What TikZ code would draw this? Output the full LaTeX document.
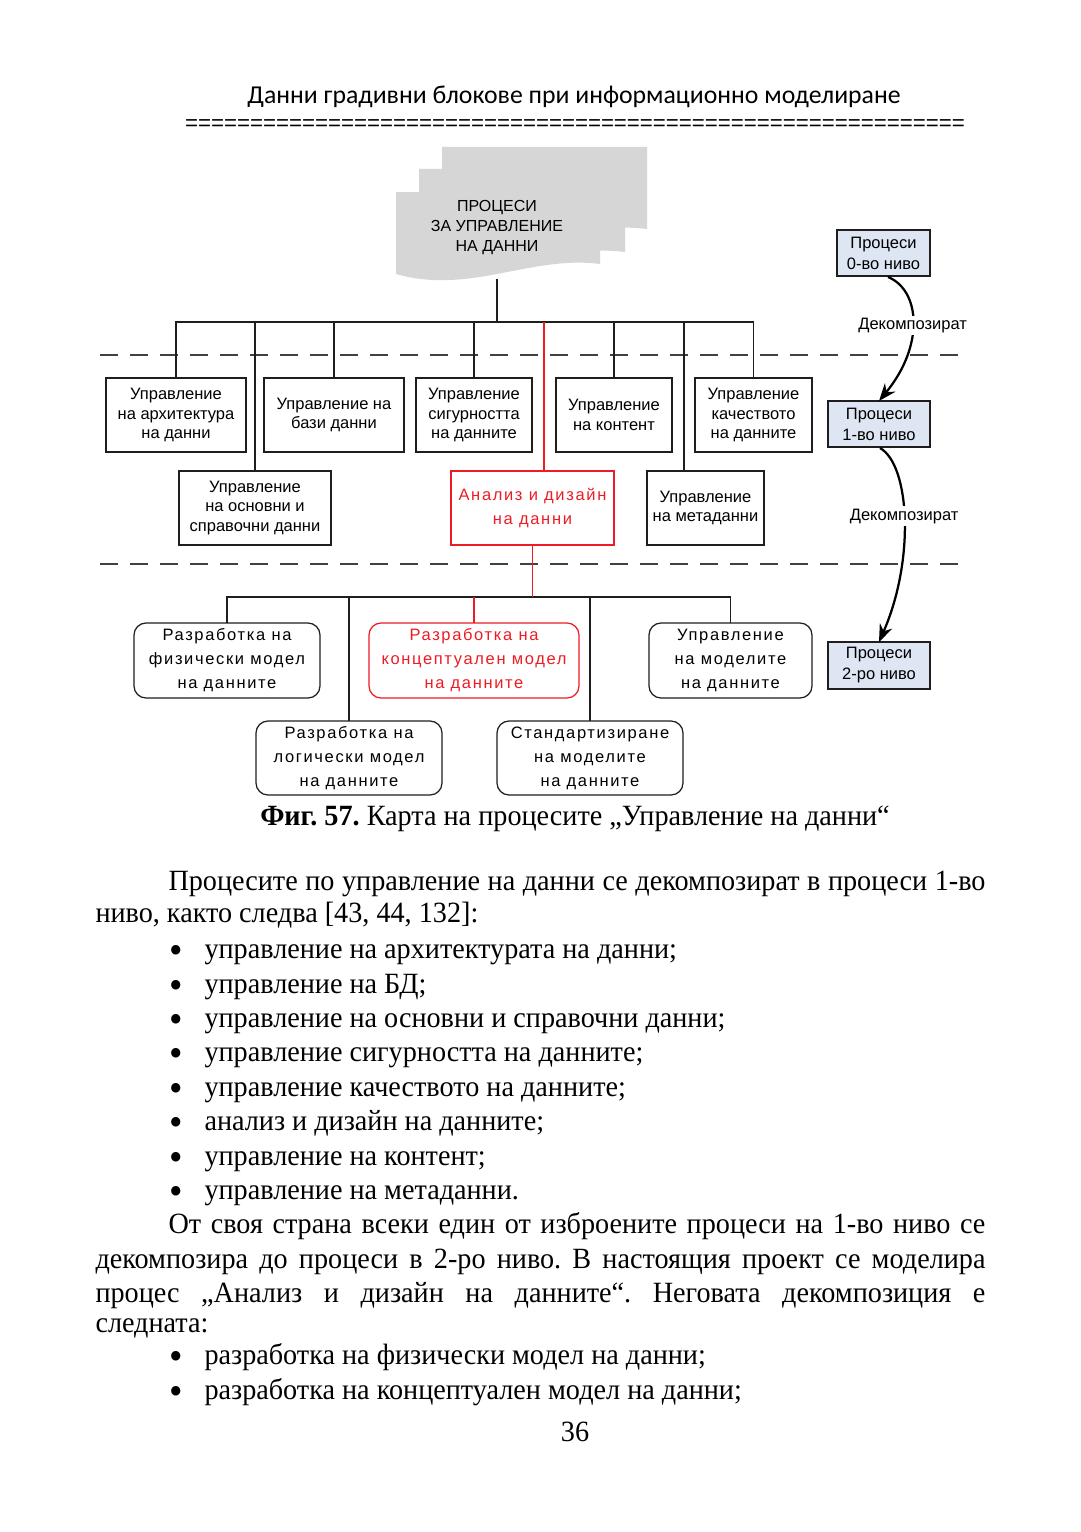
\documentclass[tikz,border=0pt]{standalone}
\usepackage{fontspec}
\usepackage{graphicx}
\setmainfont{Liberation Serif}
\newfontfamily\bodyfont[FakeStretch=0.96]{Liberation Serif}
\newfontfamily\sansf{Liberation Sans}
\newfontfamily\spacedf[LetterSpace=10]{Liberation Sans}
\newfontfamily\headf{Carlito}
\usetikzlibrary{arrows.meta,calc}
\definecolor{redc}{RGB}{237,28,36}
\definecolor{docgray}{RGB}{214,214,214}
\definecolor{procblue}{RGB}{221,230,242}
\definecolor{linec}{RGB}{30,30,30}
\frenchspacing
\tikzset{
 sz/.style 2 args={minimum width=#1*0.4pt,minimum height=#2*0.4pt},
 lvl/.style={draw=linec,line width=0.5pt,inner sep=0pt,outer sep=0pt,align=center,font=\fontsize{6.6}{7.8}\sansf},
 lvltwo/.style={lvl,rounded corners=4.8pt,font=\fontsize{6.6}{9.6}\spacedf},
 redbox/.style={draw=redc,text=redc},
 proc/.style={lvl,fill=procblue,font=\fontsize{6.6}{8.4}\sansf},
 conn/.style={draw=linec,line width=0.5pt},
 redconn/.style={draw=redc,line width=0.5pt},
 sep/.style={draw=linec!85,line width=0.45pt,dash pattern=on 7.2pt off 4.8pt},
 decomp/.style={draw=black,line width=0.9pt,-{Stealth[length=7pt,width=5.4pt]}},
 lbl/.style={fill=white,inner sep=1pt,font=\fontsize{6.6}{8}\sansf},
 body/.style={inner sep=0pt,anchor=base west,text height=8.6pt,text depth=2.4pt,font=\fontsize{11.75}{14}\bodyfont\frenchspacing},
 bul/.style={inner sep=0pt,anchor=base,text height=7pt,text depth=0pt,font=\fontsize{16}{16}\bodyfont},
}
\begin{document}
\begin{tikzpicture}[x=0.4pt,y=-0.4pt]
\fill[white] (0,0) rectangle (1080,1532);
\useasboundingbox (0,0) rectangle (1080,1532);

% header
\node[inner sep=0pt,font=\fontsize{10.3}{12}\headf] (head) at (574,97) {Данни градивни блокове при информационно моделиране};
\node[inner sep=0pt,font=\fontsize{8.9}{10}\sansf] (eqline) at (575,125) {============================================================};

% document stack
\fill[docgray] (442,147) -- (647,147) -- (647,229) .. controls (577,220) and (517,260) .. (442,239) -- cycle;
\fill[docgray] (419,169) -- (625,169) -- (625,252) .. controls (555,243) and (495,283) .. (419,262) -- cycle;
\fill[docgray] (396,192) -- (600,192) -- (600,264) .. controls (530,255) and (470,295) .. (396,274) -- cycle;
\node[inner sep=0pt,align=center,font=\fontsize{6.4}{8}\sansf] (doc) at (497,228) {ПРОЦЕСИ\\ЗА УПРАВЛЕНИЕ\\НА ДАННИ};
\coordinate (docbot) at (497,279);

% separators
\coordinate (s1a) at (100,355); \coordinate (s1b) at (965,355);
\coordinate (s2a) at (100,564); \coordinate (s2b) at (965,564);
\draw[sep] (s1a) -- (s1b);
\draw[sep] (s2a) -- (s2b);

% level 1
\node[lvl,sz={140}{74}] (arch) at (176,415) {Управление\\на архитектура\\на данни};
\node[lvl,sz={140}{74}] (bazi) at (334,415) {Управление на\\бази данни};
\node[lvl,sz={116}{74}] (sigur) at (474,415) {Управление\\сигурността\\на данните};
\node[lvl,sz={116}{74}] (kont) at (614,415) {Управление\\на контент};
\node[lvl,sz={117}{74}] (kach) at (753.5,415) {Управление\\качеството\\на данните};
\node[lvl,sz={152}{74}] (osn) at (255,508) {Управление\\на основни и\\справочни данни};
\node[lvl,redbox,sz={163}{74},font=\fontsize{6.6}{9.6}\spacedf] (an) at (532.5,508) {Анализ и дизайн\\на данни};
\node[lvl,sz={117}{74}] (meta) at (705.5,508) {Управление\\на метаданни};

% level 2
\node[lvltwo,sz={186}{75}] (fiz) at (227,660.5) {Разработка на\\физически модел\\на данните};
\node[lvltwo,redbox,sz={210}{75}] (konc) at (474,660.5) {Разработка на\\концептуален модел\\на данните};
\node[lvltwo,sz={163}{75}] (mod) at (730.5,660.5) {Управление\\на моделите\\на данните};
\node[lvltwo,sz={186}{74}] (log) at (349,758) {Разработка на\\логически модел\\на данните};
\node[lvltwo,sz={186}{74}] (std) at (590,758) {Стандартизиране\\на моделите\\на данните};

% levels legend
\node[proc,sz={93}{46}] (p0) at (883.5,253) {Процеси\\0-во ниво};
\node[proc,sz={102}{46}] (p1) at (879,424) {Процеси\\1-во ниво};
\node[proc,sz={102}{47}] (p2) at (879,665.5) {Процеси\\2-ро ниво};

% connectors level 0 -> 1
\coordinate (bus1) at (497,322);
\coordinate (metatop) at ($(meta.north)+(-21.5,0)$);
\coordinate (antop) at ($(an.north)+(11.5,0)$);
\draw[conn] (docbot) -- (bus1);
\draw[conn] (arch.north) |- (bus1) -| (kach.north);
\draw[conn] (bazi.north) -- (bazi.north |- bus1);
\draw[conn] (sigur.north) -- (sigur.north |- bus1);
\draw[conn] (kont.north) -- (kont.north |- bus1);
\draw[conn] (osn.north) -- (osn.north |- bus1);
\draw[conn] (metatop) -- (metatop |- bus1);
\draw[redconn] (antop) -- (antop |- bus1);

% connectors level 1 -> 2
\coordinate (bus2) at (532.5,597);
\draw[conn] (fiz.north) |- (bus2) -| (mod.north);
\draw[conn] (log.north) -- (log.north |- bus2);
\draw[conn] (std.north) -- (std.north |- bus2);
\draw[redconn] (an.south) -- (bus2);
\draw[redconn] (konc.north) -- (konc.north |- bus2);

% decomposition arrows
\draw[decomp] ($(p0.south)+(4.5,1)$) .. controls (920,290) and (925,345) .. (p1.north) node[lbl,pos=0.52] (d1) {Декомпозират};
\draw[decomp] ($(p1.south)+(1,1)$) .. controls (910,465) and (915,560) .. (p2.north) node[lbl,pos=0.48] (d2) {Декомпозират};

% caption
\node[inner sep=0pt,anchor=base,font=\fontsize{11.75}{14}\bodyfont] (cap) at (575,825) {\textbf{Фиг. 57.} Карта на процесите „Управление на данни“};

% body text
\node[body] (t1) at (168,890) {\makebox[326.8pt][s]{Процесите по управление на данни се декомпозират в процеси 1-во}};
\node[body] (t2) at (95,922) {ниво, както следва [43, 44, 132]:};
\node[bul] (b1) at (176,963) {•}; \node[body] (l1) at (204,958) {управление на архитектурата на данни;};
\node[bul] (b2) at (176,998) {•}; \node[body] (l2) at (204,993) {управление на БД;};
\node[bul] (b3) at (176,1032) {•}; \node[body] (l3) at (204,1027) {управление на основни и справочни данни;};
\node[bul] (b4) at (176,1066) {•}; \node[body] (l4) at (204,1061) {управление сигурността на данните;};
\node[bul] (b5) at (176,1101) {•}; \node[body] (l5) at (204,1096) {управление качеството на данните;};
\node[bul] (b6) at (176,1135) {•}; \node[body] (l6) at (204,1130) {анализ и дизайн на данните;};
\node[bul] (b7) at (176,1170) {•}; \node[body] (l7) at (204,1165) {управление на контент;};
\node[bul] (b8) at (176,1204) {•}; \node[body] (l8) at (204,1199) {управление на метаданни.};
\node[body] (t3) at (168,1233) {\makebox[326.8pt][s]{От своя страна всеки един от изброените процеси на 1-во ниво се}};
\node[body] (t4) at (95,1268) {\makebox[356pt][s]{декомпозира до процеси в 2-ро ниво. В настоящия проект се моделира}};
\node[body] (t5) at (95,1302) {\makebox[356pt][s]{процес „Анализ и дизайн на данните“. Неговата декомпозиция е}};
\node[body] (t6) at (95,1332) {следната:};
\node[bul] (b9) at (176,1369) {•}; \node[body] (l9) at (204,1364) {разработка на физически модел на данни;};
\node[bul] (b10) at (176,1404) {•}; \node[body] (l10) at (204,1399) {разработка на концептуален модел на данни;};
\node[inner sep=0pt,anchor=base,font=\fontsize{11.75}{14}\bodyfont] (pg) at (575,1441) {36};
\end{tikzpicture}
\end{document}
